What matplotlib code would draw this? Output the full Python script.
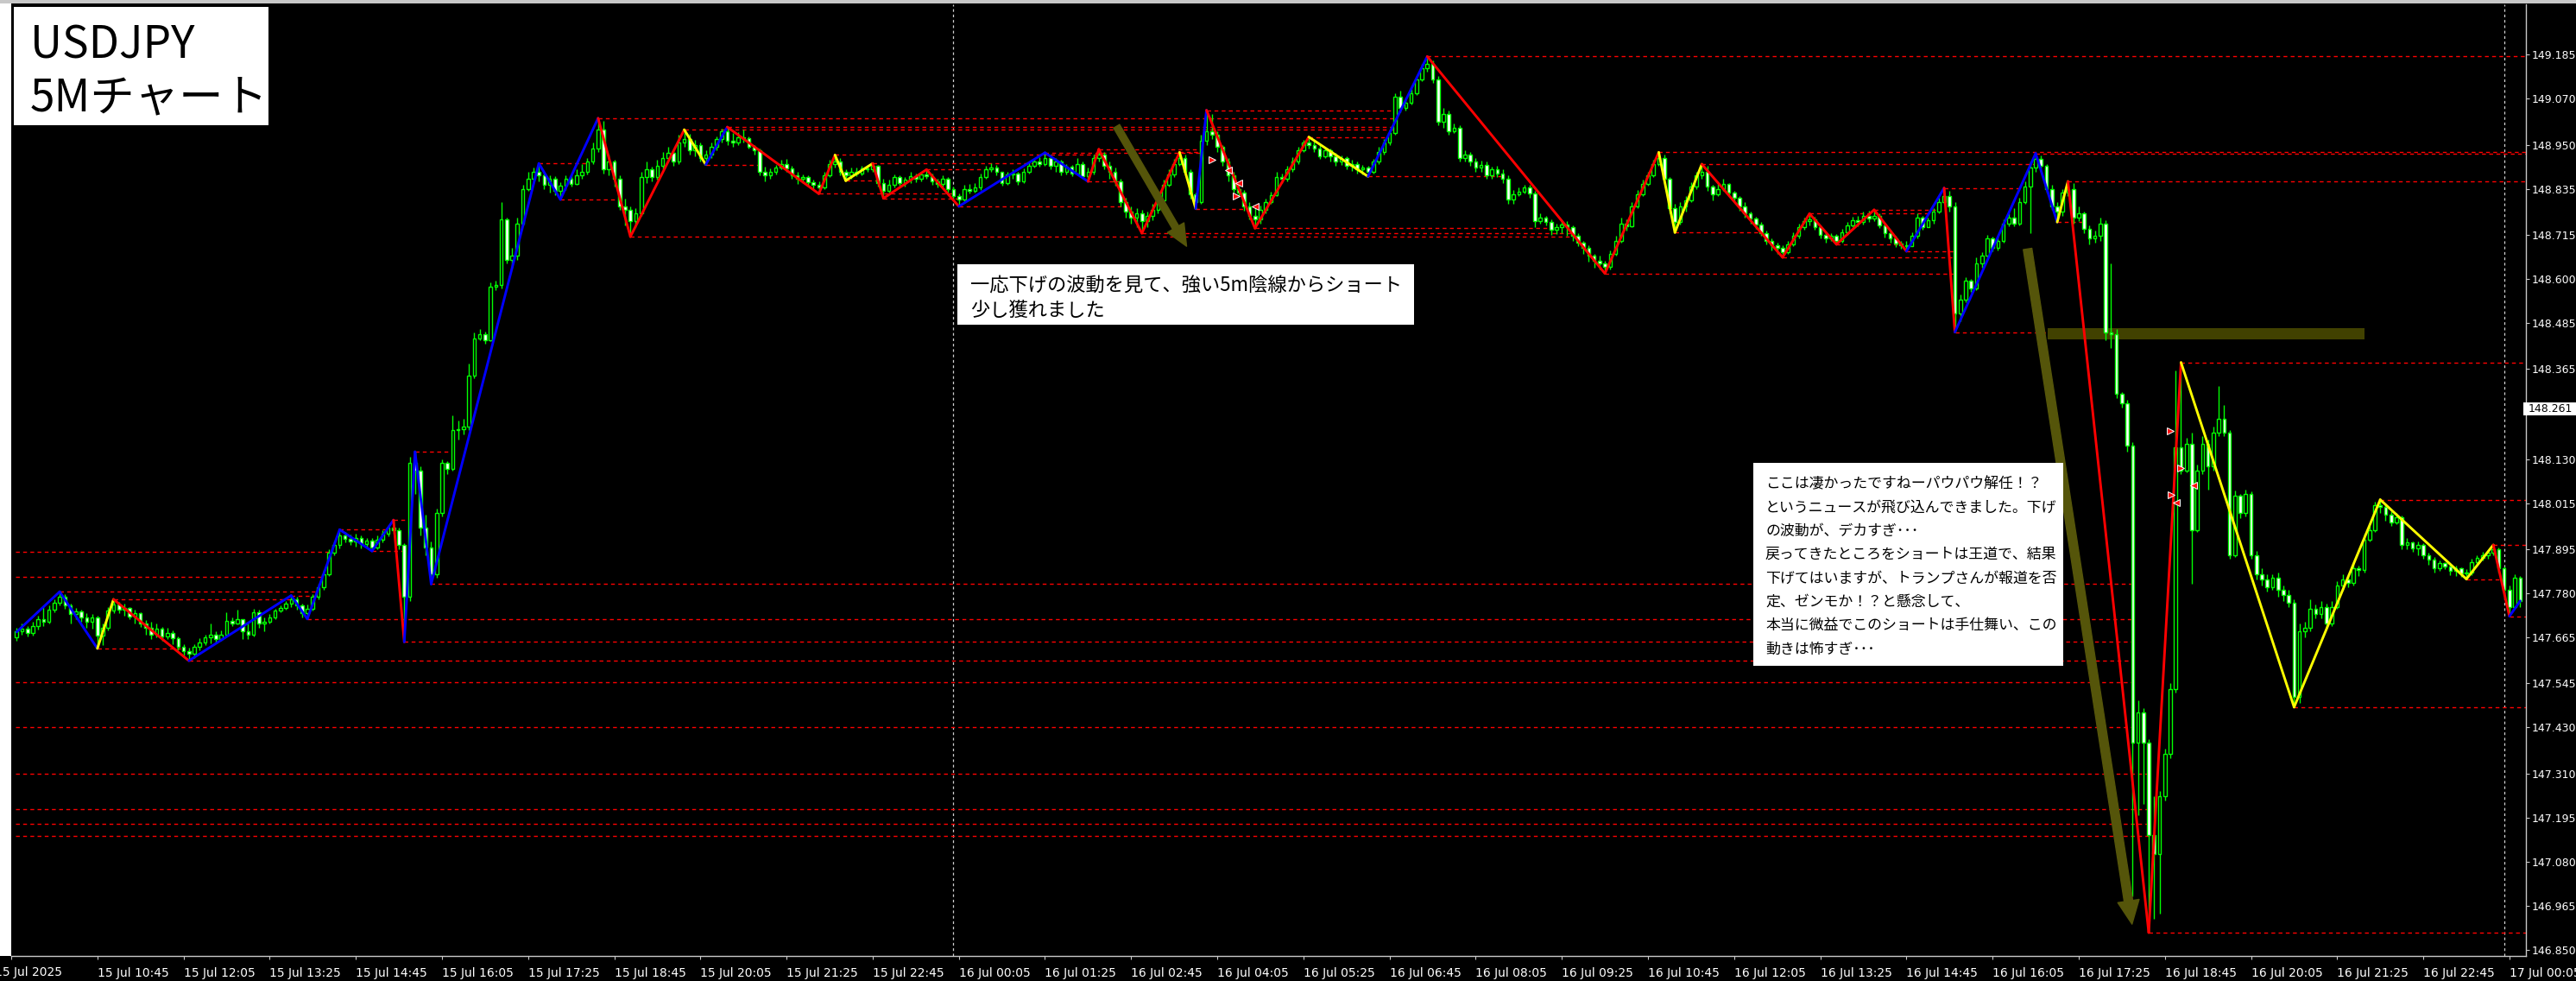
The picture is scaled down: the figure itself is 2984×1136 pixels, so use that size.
import matplotlib
matplotlib.use("Agg")
import matplotlib.pyplot as plt
from matplotlib.patches import Rectangle, FancyArrowPatch

plt.rcParams['font.family'] = ['Noto Sans CJK JP', 'DejaVu Sans']

# ---------------- data (5M bars, index 0 = 15 Jul 10:45) ----------------
first_bar = -15
first_open = 147.665

close_px = [
    147.680, 147.688, 147.676, 147.694, 147.712, 147.705, 147.738, 147.755, 147.770, 147.748,
    147.725, 147.732, 147.718, 147.705, 147.718, 147.670, 147.690, 147.735, 147.750, 147.738,
    147.742, 147.720, 147.728, 147.700, 147.690, 147.672, 147.688, 147.668, 147.676, 147.662,
    147.640, 147.628, 147.622, 147.640, 147.652, 147.664, 147.672, 147.660, 147.672, 147.708,
    147.702, 147.712, 147.680, 147.672, 147.730, 147.700, 147.705, 147.718, 147.735, 147.742,
    147.752, 147.765, 147.748, 147.728, 147.740, 147.770, 147.796, 147.830, 147.886, 147.905,
    147.930, 147.922, 147.915, 147.925, 147.908, 147.918, 147.900, 147.920, 147.935, 147.950,
    147.945, 147.905, 147.770, 148.120, 148.100, 147.950, 147.900, 147.830, 147.990, 148.120,
    148.105, 148.205, 148.207, 148.215, 148.348, 148.445, 148.455, 148.440, 148.580, 148.585,
    148.755, 148.650, 148.660, 148.745, 148.835, 148.860, 148.880, 148.870, 148.845, 148.860,
    148.830, 148.842, 148.860, 148.848, 148.870, 148.880, 148.905, 148.940, 148.990, 148.885,
    148.905, 148.860, 148.790, 148.780, 148.750, 148.770, 148.865, 148.885, 148.865, 148.895,
    148.915, 148.928, 148.905, 148.955, 148.965, 148.935, 148.950, 148.915, 148.925, 148.945,
    148.965, 148.985, 148.960, 148.955, 148.970, 148.968, 148.945, 148.935, 148.880, 148.870,
    148.878, 148.890, 148.900, 148.888, 148.870, 148.860, 148.865, 148.852, 148.845, 148.838,
    148.870, 148.900, 148.905, 148.880, 148.870, 148.880, 148.875, 148.888, 148.885, 148.895,
    148.850, 148.830, 148.845, 148.865, 148.850, 148.858, 148.868, 148.860, 148.872, 148.868,
    148.855, 148.848, 148.862, 148.835, 148.815, 148.808, 148.835, 148.830, 148.838, 148.865,
    148.885, 148.890, 148.878, 148.850, 148.872, 148.875, 148.855, 148.880, 148.895, 148.905,
    148.900, 148.915, 148.895, 148.905, 148.880, 148.892, 148.875, 148.900, 148.868, 148.880,
    148.915, 148.925, 148.895, 148.880, 148.855, 148.800, 148.775, 148.760, 148.772, 148.750,
    148.765, 148.780, 148.805, 148.845, 148.872, 148.900, 148.915, 148.880, 148.820, 148.800,
    148.960, 148.985, 148.975, 148.945, 148.905, 148.870, 148.835, 148.825, 148.790, 148.765,
    148.755, 148.780, 148.800, 148.818, 148.865, 148.860, 148.885, 148.905, 148.935, 148.955,
    148.950, 148.940, 148.920, 148.935, 148.920, 148.905, 148.915, 148.895, 148.900, 148.885,
    148.890, 148.880, 148.905, 148.930, 148.955, 148.980, 149.075, 149.045, 149.060, 149.085,
    149.120, 149.150, 149.160, 149.120, 149.010, 149.030, 148.985, 148.995, 148.915, 148.925,
    148.905, 148.890, 148.898, 148.870, 148.885, 148.875, 148.860, 148.808, 148.820, 148.828,
    148.838, 148.822, 148.750, 148.760, 148.748, 148.728, 148.735, 148.742, 148.735, 148.712,
    148.695, 148.680, 148.660, 148.648, 148.640, 148.632, 148.665, 148.700, 148.745, 148.738,
    148.790, 148.820, 148.848, 148.870, 148.900, 148.915, 148.860, 148.785, 148.748, 148.790,
    148.805, 148.840, 148.870, 148.880, 148.840, 148.820, 148.835, 148.848, 148.825, 148.812,
    148.790, 148.770, 148.758, 148.742, 148.720, 148.700, 148.688, 148.680, 148.670, 148.690,
    148.712, 148.735, 148.750, 148.755, 148.735, 148.715, 148.705, 148.712, 148.700, 148.722,
    148.740, 148.752, 148.748, 148.765, 148.758, 148.765, 148.740, 148.720, 148.705, 148.692,
    148.688, 148.685, 148.712, 148.760, 148.735, 148.752, 148.775, 148.800, 148.815, 148.790,
    148.510, 148.545, 148.595, 148.575, 148.640, 148.660, 148.705, 148.680, 148.700, 148.745,
    148.760, 148.745, 148.800, 148.840, 148.890, 148.912, 148.895, 148.835, 148.790, 148.775,
    148.825, 148.835, 148.760, 148.770, 148.730, 148.705, 148.712, 148.745, 148.460, 148.455,
    148.300, 148.275, 148.165, 147.390, 147.470, 147.390, 147.150, 147.100, 147.250, 147.360,
    147.530, 148.160, 148.100, 148.170, 147.945, 148.100, 148.170, 148.110, 148.200, 148.235,
    148.200, 147.880, 148.035, 147.990, 148.040, 147.880, 147.830, 147.815, 147.795, 147.820,
    147.790, 147.775, 147.755, 147.510, 147.680, 147.690, 147.740, 147.725, 147.745, 147.700,
    147.745, 147.800, 147.815, 147.808, 147.845, 147.840, 147.920, 147.945, 148.010, 148.005,
    147.985, 147.965, 147.978, 147.905, 147.912, 147.898, 147.905, 147.880, 147.868, 147.845,
    147.858, 147.850, 147.838, 147.845, 147.832, 147.835, 147.860, 147.872, 147.878, 147.885,
    147.895, 147.845, 147.790, 147.745, 147.820, 147.760,
]

high_px = [
    147.690, 147.700, 147.695, 147.705, 147.722, 147.745, 147.748, 147.765, 147.784, 147.778,
    147.752, 147.742, 147.738, 147.728, 147.725, 147.722, 147.700, 147.745, 147.764, 147.758,
    147.752, 147.745, 147.738, 147.730, 147.710, 147.705, 147.700, 147.692, 147.690, 147.682,
    147.668, 147.648, 147.638, 147.648, 147.662, 147.672, 147.700, 147.680, 147.684, 147.730,
    147.716, 147.738, 147.712, 147.700, 147.740, 147.738, 147.716, 147.726, 147.740, 147.748,
    147.760, 147.774, 147.770, 147.752, 147.750, 147.778, 147.805, 147.840, 147.895, 147.915,
    147.946, 147.940, 147.932, 147.935, 147.930, 147.925, 147.924, 147.930, 147.945, 147.958,
    147.971, 147.950, 147.910, 148.135, 148.149, 148.110, 147.985, 147.915, 148.000, 148.130,
    148.125, 148.245, 148.230, 148.235, 148.380, 148.460, 148.470, 148.462, 148.590, 148.595,
    148.800, 148.760, 148.680, 148.760, 148.845, 148.880, 148.890, 148.901, 148.880, 148.870,
    148.868, 148.852, 148.870, 148.872, 148.885, 148.900, 148.915, 148.955, 149.019, 149.012,
    148.925, 148.910, 148.870, 148.810, 148.790, 148.785, 148.880, 148.905, 148.892, 148.910,
    148.930, 148.945, 148.935, 148.975, 148.989, 148.978, 148.962, 148.955, 148.935, 148.955,
    148.972, 148.992, 148.996, 148.980, 148.982, 148.990, 148.972, 148.950, 148.940, 148.892,
    148.888, 148.898, 148.910, 148.912, 148.895, 148.878, 148.872, 148.870, 148.858, 148.855,
    148.880, 148.910, 148.923, 148.915, 148.885, 148.890, 148.890, 148.895, 148.898, 148.901,
    148.898, 148.860, 148.858, 148.872, 148.870, 148.866, 148.878, 148.874, 148.880, 148.885,
    148.875, 148.862, 148.870, 148.865, 148.840, 148.822, 148.845, 148.848, 148.850, 148.875,
    148.895, 148.902, 148.898, 148.880, 148.880, 148.885, 148.880, 148.888, 148.905, 148.915,
    148.918, 148.929, 148.925, 148.915, 148.910, 148.900, 148.898, 148.915, 148.905, 148.890,
    148.925, 148.938, 148.930, 148.905, 148.890, 148.862, 148.812, 148.790, 148.785, 148.780,
    148.775, 148.795, 148.820, 148.858, 148.885, 148.912, 148.930, 148.925, 148.885, 148.825,
    148.975, 149.040, 149.030, 148.985, 148.950, 148.915, 148.880, 148.845, 148.832, 148.800,
    148.790, 148.792, 148.810, 148.828, 148.880, 148.875, 148.895, 148.918, 148.945, 148.962,
    148.970, 148.965, 148.948, 148.942, 148.940, 148.928, 148.922, 148.920, 148.910, 148.905,
    148.898, 148.895, 148.912, 148.945, 148.965, 148.990, 149.085, 149.090, 149.072, 149.095,
    149.130, 149.160, 149.180, 149.170, 149.130, 149.045, 149.040, 149.005, 149.000, 148.935,
    148.930, 148.915, 148.908, 148.905, 148.892, 148.895, 148.885, 148.870, 148.832, 148.838,
    148.845, 148.845, 148.830, 148.770, 148.765, 148.755, 148.745, 148.752, 148.750, 148.740,
    148.720, 148.700, 148.688, 148.665, 148.660, 148.648, 148.675, 148.712, 148.760, 148.755,
    148.800, 148.832, 148.858, 148.880, 148.910, 148.930, 148.925, 148.865, 148.795, 148.800,
    148.815, 148.852, 148.880, 148.899, 148.895, 148.845, 148.848, 148.860, 148.850, 148.830,
    148.815, 148.800, 148.775, 148.762, 148.748, 148.725, 148.705, 148.695, 148.688, 148.700,
    148.722, 148.745, 148.760, 148.770, 148.762, 148.740, 148.722, 148.720, 148.718, 148.730,
    148.748, 148.762, 148.765, 148.775, 148.778, 148.780, 148.772, 148.745, 148.728, 148.712,
    148.700, 148.698, 148.722, 148.770, 148.765, 148.760, 148.785, 148.812, 148.837, 148.830,
    148.800, 148.560, 148.605, 148.600, 148.655, 148.670, 148.715, 148.710, 148.712, 148.755,
    148.770, 148.785, 148.812, 148.855, 148.905, 148.927, 148.922, 148.900, 148.845, 148.800,
    148.835, 148.854, 148.850, 148.790, 148.775, 148.740, 148.725, 148.760, 148.752, 148.640,
    148.470, 148.305, 148.285, 148.175, 147.500, 147.480, 147.400, 147.250, 147.265, 147.375,
    147.545, 148.362, 148.382, 148.185, 148.200, 148.115, 148.190, 148.180, 148.215, 148.320,
    148.270, 148.205, 148.048, 148.040, 148.050, 148.045, 147.890, 147.845, 147.830, 147.830,
    147.835, 147.800, 147.790, 147.765, 147.700, 147.705, 147.765, 147.750, 147.760, 147.752,
    147.760, 147.812, 147.830, 147.825, 147.860, 147.852, 147.935, 147.955, 148.018, 148.024,
    148.015, 147.995, 147.990, 147.982, 147.925, 147.915, 147.915, 147.910, 147.885, 147.875,
    147.865, 147.862, 147.855, 147.852, 147.848, 147.842, 147.870, 147.880, 147.888, 147.892,
    147.906, 147.900, 147.850, 147.800, 147.830, 147.825,
]

low_px = [
    147.655, 147.672, 147.668, 147.670, 147.686, 147.695, 147.700, 147.730, 147.748, 147.740,
    147.700, 147.712, 147.705, 147.690, 147.688, 147.636, 147.645, 147.684, 147.728, 147.728,
    147.722, 147.712, 147.700, 147.692, 147.672, 147.660, 147.664, 147.655, 147.660, 147.648,
    147.632, 147.618, 147.604, 147.612, 147.632, 147.645, 147.650, 147.650, 147.655, 147.668,
    147.695, 147.698, 147.660, 147.660, 147.668, 147.690, 147.680, 147.700, 147.712, 147.730,
    147.738, 147.745, 147.738, 147.718, 147.713, 147.735, 147.765, 147.790, 147.825, 147.878,
    147.898, 147.912, 147.905, 147.902, 147.898, 147.900, 147.890, 147.895, 147.912, 147.928,
    147.935, 147.895, 147.653, 147.760, 148.040, 147.930, 147.880, 147.804, 147.820, 147.980,
    148.090, 148.100, 148.180, 148.195, 148.205, 148.340, 148.440, 148.430, 148.438, 148.570,
    148.575, 148.640, 148.630, 148.650, 148.740, 148.830, 148.850, 148.855, 148.835, 148.825,
    148.818, 148.807, 148.832, 148.840, 148.845, 148.860, 148.872, 148.900, 148.930, 148.875,
    148.870, 148.840, 148.780, 148.740, 148.710, 148.735, 148.765, 148.850, 148.855, 148.858,
    148.885, 148.905, 148.895, 148.900, 148.945, 148.925, 148.920, 148.905, 148.898, 148.915,
    148.935, 148.955, 148.950, 148.945, 148.948, 148.955, 148.940, 148.925, 148.870, 148.855,
    148.862, 148.872, 148.885, 148.880, 148.862, 148.848, 148.850, 148.842, 148.832, 148.822,
    148.835, 148.865, 148.890, 148.870, 148.856, 148.862, 148.868, 148.870, 148.878, 148.880,
    148.840, 148.810, 148.825, 148.838, 148.842, 148.840, 148.850, 148.852, 148.855, 148.860,
    148.845, 148.838, 148.840, 148.825, 148.805, 148.789, 148.800, 148.822, 148.825, 148.832,
    148.860, 148.878, 148.870, 148.842, 148.845, 148.860, 148.845, 148.850, 148.875, 148.890,
    148.892, 148.895, 148.885, 148.880, 148.870, 148.872, 148.868, 148.872, 148.860, 148.854,
    148.872, 148.905, 148.885, 148.860, 148.842, 148.790, 148.760, 148.745, 148.735, 148.719,
    148.735, 148.752, 148.770, 148.800, 148.840, 148.865, 148.895, 148.870, 148.810, 148.783,
    148.795, 148.950, 148.965, 148.930, 148.895, 148.855, 148.825, 148.815, 148.778, 148.755,
    148.732, 148.745, 148.770, 148.795, 148.815, 148.850, 148.855, 148.878, 148.900, 148.930,
    148.940, 148.930, 148.912, 148.915, 148.905, 148.895, 148.898, 148.885, 148.882, 148.875,
    148.872, 148.867, 148.875, 148.900, 148.925, 148.950, 148.975, 149.035, 149.040, 149.055,
    149.080, 149.115, 149.140, 149.110, 149.000, 148.995, 148.975, 148.980, 148.905, 148.905,
    148.895, 148.880, 148.878, 148.860, 148.862, 148.865, 148.850, 148.795, 148.795, 148.815,
    148.822, 148.812, 148.735, 148.745, 148.740, 148.715, 148.718, 148.720, 148.712, 148.700,
    148.685, 148.665, 148.645, 148.630, 148.625, 148.614, 148.625, 148.660, 148.695, 148.725,
    148.735, 148.785, 148.815, 148.842, 148.865, 148.895, 148.850, 148.770, 148.721, 148.742,
    148.775, 148.800, 148.835, 148.860, 148.830, 148.805, 148.815, 148.830, 148.815, 148.800,
    148.778, 148.760, 148.745, 148.730, 148.712, 148.690, 148.675, 148.665, 148.656, 148.665,
    148.685, 148.705, 148.728, 148.740, 148.728, 148.705, 148.695, 148.698, 148.690, 148.695,
    148.715, 148.735, 148.738, 148.742, 148.748, 148.750, 148.732, 148.708, 148.695, 148.682,
    148.678, 148.672, 148.685, 148.705, 148.728, 148.735, 148.745, 148.770, 148.795, 148.775,
    148.461, 148.490, 148.540, 148.565, 148.570, 148.630, 148.655, 148.672, 148.675, 148.695,
    148.738, 148.738, 148.740, 148.795, 148.720, 148.880, 148.885, 148.825, 148.780, 148.748,
    148.765, 148.815, 148.745, 148.750, 148.720, 148.690, 148.695, 148.700, 148.440, 148.420,
    148.290, 148.265, 148.150, 146.990, 147.200, 147.230, 146.895, 146.930, 146.945, 147.240,
    147.350, 147.520, 148.090, 148.095, 147.805, 147.940, 148.090, 148.050, 148.100, 148.190,
    148.190, 147.870, 147.875, 147.975, 147.980, 147.870, 147.815, 147.800, 147.785, 147.790,
    147.770, 147.760, 147.745, 147.483, 147.495, 147.665, 147.680, 147.715, 147.715, 147.690,
    147.695, 147.740, 147.790, 147.795, 147.800, 147.825, 147.835, 147.915, 147.940, 147.990,
    147.970, 147.955, 147.960, 147.895, 147.895, 147.888, 147.880, 147.870, 147.855, 147.835,
    147.838, 147.842, 147.828, 147.825, 147.822, 147.817, 147.828, 147.855, 147.865, 147.870,
    147.880, 147.835, 147.770, 147.720, 147.740, 147.745,
]

# ZigZag indicator vertices and segment colours (B blue, R red, Y yellow)
zz_idx = [-15, -7, 0, 3, 17, 36, 39, 45, 51, 55, 57, 59, 62, 82, 86, 93, 99, 109, 113, 117,
          134, 137, 139, 144, 146, 154, 160, 176, 184, 186, 194, 201, 204, 206, 215, 225, 236,
          247, 280, 290, 293, 298, 313, 318, 323, 330, 336, 343, 345, 360, 364, 366, 381, 387,
          408, 424, 440, 445, 448, 450]
zz_price = [147.679, 147.784, 147.636, 147.764, 147.604, 147.774, 147.713, 147.946, 147.890,
            147.971, 147.653, 148.149, 147.804, 148.901, 148.807, 149.019, 148.710, 148.989,
            148.898, 148.996, 148.822, 148.923, 148.856, 148.901, 148.810, 148.885, 148.789,
            148.929, 148.854, 148.938, 148.719, 148.930, 148.783, 149.040, 148.732, 148.970,
            148.867, 149.180, 148.614, 148.930, 148.721, 148.899, 148.656, 148.770, 148.690,
            148.780, 148.672, 148.837, 148.461, 148.927, 148.748, 148.854, 146.895, 148.382,
            147.483, 148.024, 147.817, 147.906, 147.720, 147.760]
zz_colors = "BBYRBBBBBR" "BBBBBRRYBR" "RYYRRRBBRR" "RYBRRYBRRY" "YRRRRRBRBB" "YRRYYYYRB"

# support/resistance levels carried in from before the visible window
prior_levels = [147.888, 147.822, 147.548, 147.431, 147.309, 147.217, 147.178, 147.148]

y_ticks = [149.185, 149.070, 148.950, 148.835, 148.715, 148.600, 148.485, 148.365, 148.130,
           148.015, 147.895, 147.780, 147.665, 147.545, 147.430, 147.310, 147.195, 147.080,
           146.965, 146.850]
x_tick_idx = list(range(-16, 449, 16))
x_tick_labels = ["15 Jul 2025", "15 Jul 10:45", "15 Jul 12:05", "15 Jul 13:25", "15 Jul 14:45",
                 "15 Jul 16:05", "15 Jul 17:25", "15 Jul 18:45", "15 Jul 20:05", "15 Jul 21:25",
                 "15 Jul 22:45", "16 Jul 00:05", "16 Jul 01:25", "16 Jul 02:45", "16 Jul 04:05",
                 "16 Jul 05:25", "16 Jul 06:45", "16 Jul 08:05", "16 Jul 09:25", "16 Jul 10:45",
                 "16 Jul 12:05", "16 Jul 13:25", "16 Jul 14:45", "16 Jul 16:05", "16 Jul 17:25",
                 "16 Jul 18:45", "16 Jul 20:05", "16 Jul 21:25", "16 Jul 22:45", "17 Jul 00:05"]
day_separators = [159, 447]
current_price_label = "148.261"

trade_marks_idx = [207, 210, 212, 211.5, 215, 385, 387, 389.4, 385.2, 386.1]
trade_marks_px = [148.91, 148.884, 148.85, 148.816, 148.79, 148.203, 148.106, 148.062, 148.037, 148.017]
trade_marks_dir = ['>', '<', '<', '>', '<', '>', '>', '<', '>', '<']

title_lines = ["USDJPY", "5Mチャート"]
note1_lines = ["一応下げの波動を見て、強い5m陰線からショート", "少し獲れました"]
note2_lines = ["ここは凄かったですねーパウパウ解任！？",
               "というニュースが飛び込んできました。下げ",
               "の波動が、デカすぎ･･･",
               "戻ってきたところをショートは王道で、結果",
               "下げてはいますが、トランプさんが報道を否",
               "定、ゼンモか！？と懸念して、",
               "本当に微益でこのショートは手仕舞い、この",
               "動きは怖すぎ･･･"]

# ---------------- figure ----------------
W, H = 2984, 1136
fig = plt.figure(figsize=(W / 100, H / 100), dpi=100, facecolor='black')
ax = fig.add_axes([13 / W, 1 - 1107 / H, (2926 - 13) / W, (1107 - 5) / H])
ax.set_facecolor('black')
x_left, x_right = -15.21, 451.06
ax.set_xlim(x_left, x_right)
ax.set_ylim(146.834, 149.316)

n = len(close_px)
idx = [first_bar + k for k in range(n)]
open_px = [first_open] + close_px[:-1]
hi = [max(h, o, c) for h, o, c in zip(high_px, open_px, close_px)]
lo = [min(l, o, c) for l, o, c in zip(low_px, open_px, close_px)]

LIME = '#00ff00'
# wicks
ax.vlines(idx, lo, hi, color=LIME, lw=1.0, zorder=3)
# bodies
heights = [c - o if abs(c - o) > 1e-9 else 0.0008 for o, c in zip(open_px, close_px)]
faces = ['white' if c < o else 'black' for o, c in zip(open_px, close_px)]
ax.bar(idx, heights, bottom=open_px, width=0.58, color=faces, edgecolor=LIME,
       linewidth=1.0, zorder=3.2)

# S/R dashed levels
def level_end(start, price, kind):
    for k in range(n):
        if idx[k] <= start:
            continue
        c = close_px[k]
        if (kind == 'peak' and c > price) or (kind == 'trough' and c < price):
            return idx[k]
    return x_right

dash = (0, (3.2, 2.8))
for p in prior_levels:
    kind = 'peak' if p > close_px[0] else 'trough'
    ax.plot([x_left, level_end(x_left, p, kind)], [p, p], color='#ff0000', lw=1.0, ls=dash, zorder=2)
for k in range(1, len(zz_idx) - 1):
    p = zz_price[k]
    kind = 'peak' if p > zz_price[k - 1] else 'trough'
    ax.plot([zz_idx[k], level_end(zz_idx[k], p, kind)], [p, p], color='#ff0000', lw=1.0,
            ls=dash, zorder=2)

# zigzag
cmap = {'B': '#0000ff', 'R': '#ff0000', 'Y': '#ffff00'}
for k in range(len(zz_idx) - 1):
    ax.plot(zz_idx[k:k + 2], zz_price[k:k + 2], color=cmap[zz_colors[k]], lw=2.1,
            solid_capstyle='round', zorder=4)

# day separators
for d in day_separators:
    ax.axvline(d, color='#d0d0d0', lw=0.9, ls=(0, (2.5, 2.5)), zorder=1.5)

# trade arrows
for i, p, m in zip(trade_marks_idx, trade_marks_px, trade_marks_dir):
    ax.plot(i, p, marker=m, color='#ff1010', markeredgecolor='white', markersize=6,
            mew=0.7, zorder=6)

# annotations (olive)
OLIVE = '#55550a'
ax.add_patch(Rectangle((362.3, 148.441), 58.8, 0.031, facecolor='#414100', edgecolor='none',
                       zorder=2.5))
ax.add_patch(FancyArrowPatch((189.3, 148.998), (202.3, 148.685),
                             arrowstyle='simple,head_length=1.8,head_width=1.6,tail_width=0.58',
                             mutation_scale=10, color=OLIVE, shrinkA=0, shrinkB=0, zorder=5))
ax.add_patch(FancyArrowPatch((358.5, 148.678), (377.9, 146.917),
                             arrowstyle='simple,head_length=1.95,head_width=1.8,tail_width=0.72',
                             mutation_scale=10, color=OLIVE, shrinkA=0, shrinkB=0, zorder=5))

# axes styling
for s in ['left', 'top']:
    ax.spines[s].set_visible(False)
for s in ['right', 'bottom']:
    ax.spines[s].set_color('#c8c8c8')
    ax.spines[s].set_linewidth(1.0)
ax.yaxis.tick_right()
ax.set_yticks(y_ticks)
ax.set_yticklabels([f"{v:.3f}" for v in y_ticks])
ax.tick_params(axis='y', direction='out', length=3, width=0.8, colors='#c8c8c8', pad=1.5,
               labelsize=9, labelcolor='white')
ax.set_xticks(x_tick_idx)
ax.set_xticklabels([''] + x_tick_labels[1:])
ax.tick_params(axis='x', direction='out', length=3, width=0.8, colors='#c8c8c8', pad=6,
               labelsize=10, labelcolor='white')
for lab in ax.get_xticklabels() + ax.get_yticklabels():
    lab.set_fontfamily('DejaVu Sans')
for lab in ax.get_xticklabels():
    lab.set_horizontalalignment('left')

# ---------------- figure level overlays ----------------
def fig_rect(x0, y0, x1, y1, **kw):
    fig.add_artist(Rectangle((x0 / W, 1 - y1 / H), (x1 - x0) / W, (y1 - y0) / H,
                             transform=fig.transFigure, **kw))

def fig_text(x, y, s, **kw):
    fig.text(x / W, 1 - y / H, s, **kw)

fig_rect(0, 0, 13, 1107, facecolor='white', edgecolor='none', zorder=1)
fig_rect(0, 0, W, 4, facecolor='#c8c8c8', edgecolor='none', zorder=1)

# first (partly hidden) date label
fig_text(-6, 1126, x_tick_labels[0], fontsize=10, color='white', va='center',
         family='DejaVu Sans', zorder=3)

# title box
fig_rect(16, 8, 311, 145, facecolor='white', edgecolor='none', zorder=2)
fig_text(35, 67, title_lines[0], fontsize=37, color='black', va='baseline', zorder=3)
fig_text(35, 128, title_lines[1], fontsize=37, color='black', va='baseline', zorder=3)

# note 1
fig_rect(1109, 306, 1638, 376, facecolor='white', edgecolor='none', zorder=2)
for k, s in enumerate(note1_lines):
    fig_text(1124, 331 + 28 * k, s, fontsize=16, color='black', va='center', zorder=3)

# note 2
fig_rect(2031, 536, 2390, 771, facecolor='white', edgecolor='none', zorder=2)
for k, s in enumerate(note2_lines):
    fig_text(2045, 560 + 27.4 * k, s, fontsize=12.2, color='black', va='center', zorder=3)

# current price label
fig_rect(2923, 466, 2984, 481, facecolor='white', edgecolor='none', zorder=2)
fig_text(2929, 474, current_price_label, fontsize=9, color='black', va='center',
         family='DejaVu Sans', zorder=3)

fig.savefig('out.png', dpi=100, facecolor='black')
